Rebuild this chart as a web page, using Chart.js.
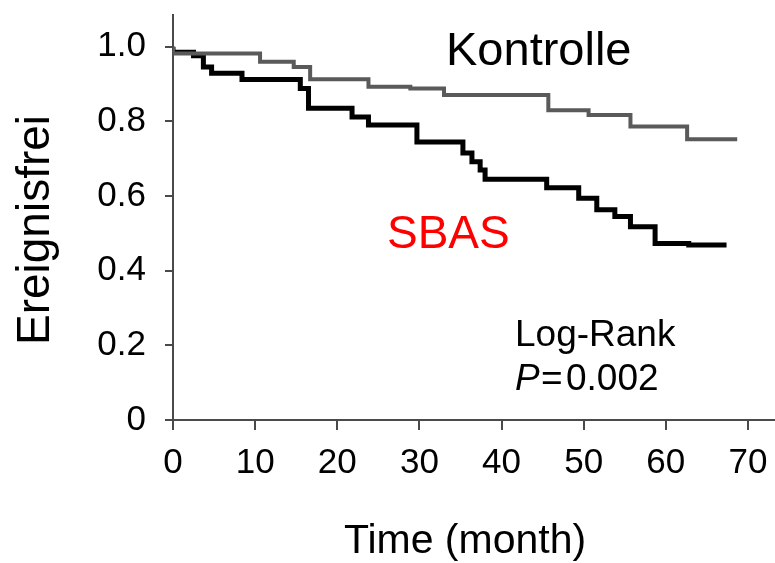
<!DOCTYPE html>
<html>
<head>
<meta charset="utf-8">
<script src="https://cdn.jsdelivr.net/npm/chart.js@4"></script>
<style>
html,body{margin:0;padding:0;background:#fff;}
canvas{display:block;}
</style>
</head>
<body>
<canvas id="c" width="775" height="563"></canvas>
<script>
// Kaplan-Meier data (time in months, survival fraction)
const kontrolleTimes  = [0, 10.6, 14.7, 16.7, 23.8, 28.9, 33.0, 45.7, 50.6, 55.7, 62.6, 64.8, 68.7];
const kontrolleValues = [1.0, 0.982, 0.960, 0.946, 0.913, 0.893, 0.888, 0.871, 0.830, 0.817, 0.786, 0.752, 0.752];

const sbasTimes  = [0, 2.5, 3.7, 4.7, 8.4, 15.5, 16.5, 21.8, 23.8, 29.7, 35.3, 36.4, 37.4, 38.0, 45.5, 49.4, 51.6, 53.8, 55.7, 58.7, 62.8, 67.4];
const sbasValues = [1.0, 0.985, 0.976, 0.946, 0.929, 0.912, 0.888, 0.835, 0.812, 0.790, 0.745, 0.715, 0.692, 0.670, 0.645, 0.622, 0.594, 0.563, 0.545, 0.518, 0.473, 0.469];

const xTicks = [0, 10, 20, 30, 40, 50, 60, 70];
const xTickLabels = ['0', '10', '20', '30', '40', '50', '60', '70'];
const yTicks = [0, 0.2, 0.4, 0.6, 0.8, 1.0];
const yTickLabels = ['0', '0.2', '0.4', '0.6', '0.8', '1.0'];

const FONT = '"Liberation Sans", Arial, sans-serif';
const AXIS = '#4a4a4a';

const toPts = (t, v) => t.map((x, i) => ({x: x, y: v[i]}));

const annotations = {
  id: 'annotations',
  afterDraw(chart) {
    const ctx = chart.ctx;
    ctx.save();
    ctx.fillStyle = '#000';
    ctx.textBaseline = 'alphabetic';
    // axis titles
    ctx.font = '41px ' + FONT;
    ctx.textAlign = 'center';
    ctx.fillText('Time (month)', 465, 553);
    ctx.save();
    ctx.translate(49, 230);
    ctx.rotate(-Math.PI / 2);
    ctx.font = '46px ' + FONT;
    ctx.fillText('Ereignisfrei', 0, 0);
    ctx.restore();
    // labels
    ctx.textAlign = 'left';
    ctx.font = '47px ' + FONT;
    ctx.fillText('Kontrolle', 446, 65);
    ctx.fillStyle = '#ff0000';
    ctx.font = '46px ' + FONT;
    ctx.fillText('SBAS', 387, 248);
    ctx.fillStyle = '#000';
    ctx.font = '37px ' + FONT;
    ctx.fillText('Log-Rank', 515, 346);
    ctx.font = 'italic 37px ' + FONT;
    ctx.fillText('P', 515, 390);
    ctx.font = '37px ' + FONT;
    ctx.fillText('=', 541, 390);
    ctx.fillText('0.002', 566, 390);
    ctx.restore();
  }
};

const noPad = s => { s.paddingTop = 0; s.paddingBottom = 0; s.paddingLeft = 0; s.paddingRight = 0; };

new Chart(document.getElementById('c'), {
  type: 'line',
  data: {
    datasets: [
      {
        label: 'Kontrolle',
        data: toPts(kontrolleTimes, kontrolleValues),
        borderColor: '#5a5a5a',
        borderWidth: 4,
        stepped: 'after',
        pointRadius: 0,
        fill: false
      },
      {
        label: 'SBAS',
        data: toPts(sbasTimes, sbasValues),
        borderColor: '#000000',
        borderWidth: 5,
        stepped: 'after',
        pointRadius: 0,
        fill: false
      }
    ]
  },
  options: {
    responsive: false,
    animation: false,
    devicePixelRatio: 1,
    layout: {padding: {top: 15, left: 0, right: 0, bottom: 0}},
    plugins: {legend: {display: false}, tooltip: {enabled: false}},
    scales: {
      x: {
        type: 'linear',
        min: 0,
        max: 73.3,
        afterBuildTicks: s => { s.ticks = xTicks.map(v => ({value: v})); },
        afterFit: s => { s.height = 143; noPad(s); },
        border: {display: true, color: AXIS, width: 2},
        grid: {drawOnChartArea: false, drawTicks: true, tickLength: 10, color: AXIS, lineWidth: 2},
        ticks: {
          color: '#000',
          font: {family: FONT, size: 35},
          padding: 12,
          maxRotation: 0,
          autoSkip: false,
          callback: v => { const i = xTicks.indexOf(v); return i >= 0 ? xTickLabels[i] : ''; }
        }
      },
      y: {
        type: 'linear',
        min: 0,
        max: 1.085,
        afterBuildTicks: s => { s.ticks = yTicks.map(v => ({value: v})); },
        afterFit: s => { s.width = 173; noPad(s); },
        border: {display: true, color: AXIS, width: 2},
        grid: {drawOnChartArea: false, drawTicks: true, tickLength: 8, color: AXIS, lineWidth: 2},
        ticks: {
          color: '#000',
          font: {family: FONT, size: 35},
          padding: 19,
          autoSkip: false,
          callback: v => { const i = yTicks.findIndex(t => Math.abs(t - v) < 1e-9); return i >= 0 ? yTickLabels[i] : ''; }
        }
      }
    }
  },
  plugins: [annotations]
});
</script>
</body>
</html>
